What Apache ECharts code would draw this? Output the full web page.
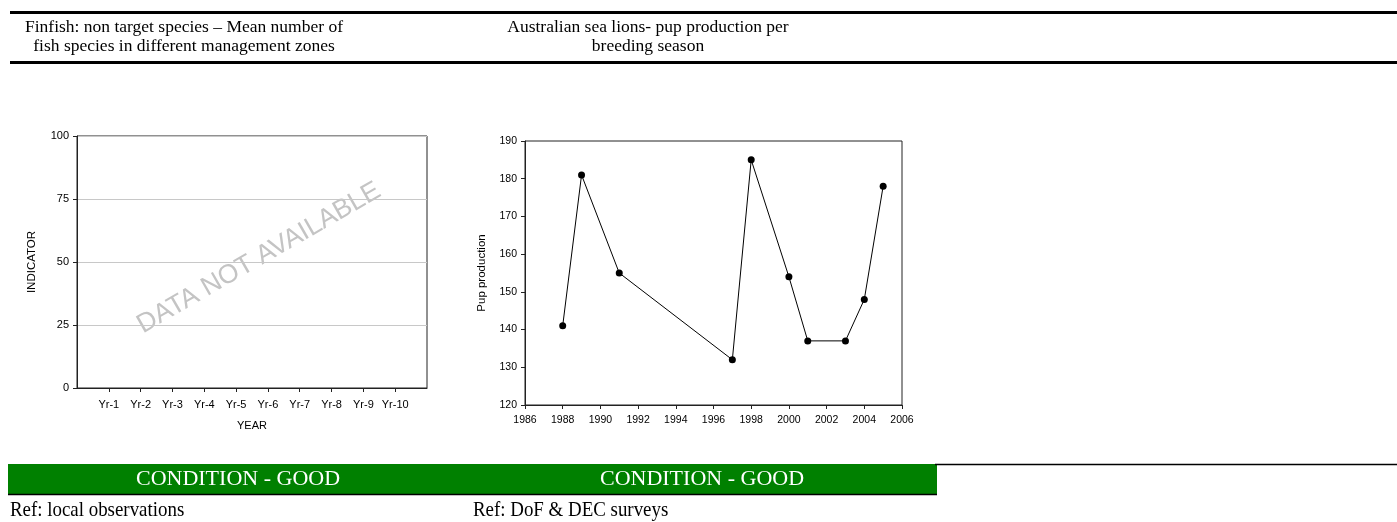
<!DOCTYPE html>
<html>
<head>
<meta charset="utf-8">
<title>Finfish / Australian sea lions</title>
<script src="https://cdn.jsdelivr.net/npm/echarts@6/dist/echarts.min.js"></script>
<style>
    html, body { margin: 0; padding: 0; background: #fff; }
    #main { width: 1397px; height: 522px; }
</style>
</head>
<body>
<div id="main"></div>
<script>
// left panel: no data, only the empty frame
var yearLabels = ['Yr-1', 'Yr-2', 'Yr-3', 'Yr-4', 'Yr-5', 'Yr-6', 'Yr-7', 'Yr-8', 'Yr-9', 'Yr-10'];
var yearPositions = [1, 2, 3, 4, 5, 6, 7, 8, 9, 10];

// right panel: sea lion pups per breeding season
var pupYears = [1988, 1989, 1991, 1997, 1998, 2000, 2001, 2003, 2004, 2005];
var pupCounts = [141, 181, 155, 132, 185, 154, 137, 137, 148, 178];

var panelTitles = [
    ['Finfish: non target species \u2013 Mean number of', 'fish species in different management zones'],
    ['Australian sea lions- pup production per', 'breeding season']
];
var conditions = ['CONDITION - GOOD', 'CONDITION - GOOD'];
var refs = ['Ref: local observations', 'Ref: DoF & DEC surveys'];

(function () {
    var sans = 'Liberation Sans, Arial, sans-serif';
    var serif = 'Liberation Serif, Times New Roman, serif';
    var axisColor = '#222';

    var chart = echarts.init(document.getElementById('main'));

    window.onresize = function () {
        chart.resize();
    };

    var pupData = [];
    for (var i = 0; i < pupYears.length; i++) {
        pupData.push([pupYears[i], pupCounts[i]]);
    }

    var titleX = [184, 648];
    var condX = [238, 702];
    var refX = [10, 473];

    var graphics = [
        {type: 'line', shape: {x1: 10, y1: 12.5, x2: 1397, y2: 12.5}, style: {stroke: '#000', lineWidth: 3}},
        {type: 'line', shape: {x1: 10, y1: 62.5, x2: 1397, y2: 62.5}, style: {stroke: '#000', lineWidth: 3}},
        {type: 'rect', shape: {x: 8, y: 464, width: 929, height: 30}, style: {fill: '#008000'}},
        {type: 'line', shape: {x1: 8, y1: 494.5, x2: 937, y2: 494.5}, style: {stroke: '#000', lineWidth: 1.5}},
        {type: 'line', shape: {x1: 935, y1: 464.5, x2: 1397, y2: 464.5}, style: {stroke: '#000', lineWidth: 1.5}},
        {
            type: 'text', x: 259, y: 258, rotation: 30 * Math.PI / 180,
            style: {text: 'DATA NOT AVAILABLE', fill: '#c4c4c4', fontSize: 26.5, fontFamily: sans,
                align: 'center', verticalAlign: 'middle'}
        }
    ];

    for (var p = 0; p < 2; p++) {
        graphics.push({
            type: 'text', x: titleX[p], y: 27,
            style: {text: panelTitles[p][0], fill: '#000', fontSize: 17.5, fontFamily: serif,
                align: 'center', verticalAlign: 'middle'}
        });
        graphics.push({
            type: 'text', x: titleX[p], y: 46,
            style: {text: panelTitles[p][1], fill: '#000', fontSize: 17.5, fontFamily: serif,
                align: 'center', verticalAlign: 'middle'}
        });
        graphics.push({
            type: 'text', x: condX[p], y: 479,
            style: {text: conditions[p], fill: '#fff', fontSize: 22, fontFamily: serif,
                align: 'center', verticalAlign: 'middle'}
        });
        graphics.push({
            type: 'text', x: refX[p], y: 510, scaleX: 0.9,
            style: {text: refs[p], fill: '#000', fontSize: 21, fontFamily: serif,
                align: 'left', verticalAlign: 'middle'}
        });
    }

    var option = {
        backgroundColor: '#fff',
        animation: false,
        grid: [
            {left: 77, top: 136, width: 350, height: 252, show: true, borderColor: axisColor, borderWidth: 1},
            {left: 525, top: 141, width: 377, height: 264, show: true, borderColor: axisColor, borderWidth: 1}
        ],
        xAxis: [
            {
                gridIndex: 0, type: 'value', min: 0, max: 11, interval: 1,
                name: 'YEAR', nameLocation: 'middle', nameGap: 32,
                nameTextStyle: {fontSize: 11, fontFamily: sans, color: '#000'},
                axisLine: {lineStyle: {color: axisColor}},
                axisTick: {length: 4, lineStyle: {color: axisColor}, customValues: yearPositions},
                axisLabel: {
                    fontSize: 11, fontFamily: sans, color: '#000', margin: 11,
                    customValues: yearPositions,
                    formatter: function (v) { return yearLabels[v - 1] || ''; }
                },
                splitLine: {show: false}
            },
            {
                gridIndex: 1, type: 'value', min: 1986, max: 2006, interval: 2,
                axisLine: {lineStyle: {color: axisColor}},
                axisTick: {length: 4, lineStyle: {color: axisColor}},
                axisLabel: {
                    fontSize: 10.5, fontFamily: sans, color: '#000', margin: 10,
                    formatter: function (v) { return String(v); }
                },
                splitLine: {show: false}
            }
        ],
        yAxis: [
            {
                gridIndex: 0, type: 'value', min: 0, max: 100, interval: 25,
                name: 'INDICATOR', nameLocation: 'middle', nameGap: 39,
                nameTextStyle: {fontSize: 11.5, fontFamily: sans, color: '#000'},
                axisLine: {show: true, lineStyle: {color: axisColor}},
                axisTick: {show: true, length: 4, lineStyle: {color: axisColor}},
                axisLabel: {fontSize: 11, fontFamily: sans, color: '#000', margin: 8},
                splitLine: {show: true, lineStyle: {color: '#c8c8c8', width: 1}}
            },
            {
                gridIndex: 1, type: 'value', min: 120, max: 190, interval: 10,
                name: 'Pup production', nameLocation: 'middle', nameGap: 37,
                nameTextStyle: {fontSize: 11.5, fontFamily: sans, color: '#000'},
                axisLine: {show: true, lineStyle: {color: axisColor}},
                axisTick: {show: true, length: 4, lineStyle: {color: axisColor}},
                axisLabel: {fontSize: 10.5, fontFamily: sans, color: '#000', margin: 8},
                splitLine: {show: false}
            }
        ],
        series: [
            {
                type: 'line', xAxisIndex: 0, yAxisIndex: 0, data: [], silent: true
            },
            {
                type: 'line', xAxisIndex: 1, yAxisIndex: 1, data: pupData,
                symbol: 'circle', symbolSize: 7, silent: true,
                itemStyle: {color: '#000'},
                lineStyle: {color: '#000', width: 1}
            }
        ],
        graphic: graphics
    };

    chart.setOption(option);
})();
</script>
</body>
</html>
